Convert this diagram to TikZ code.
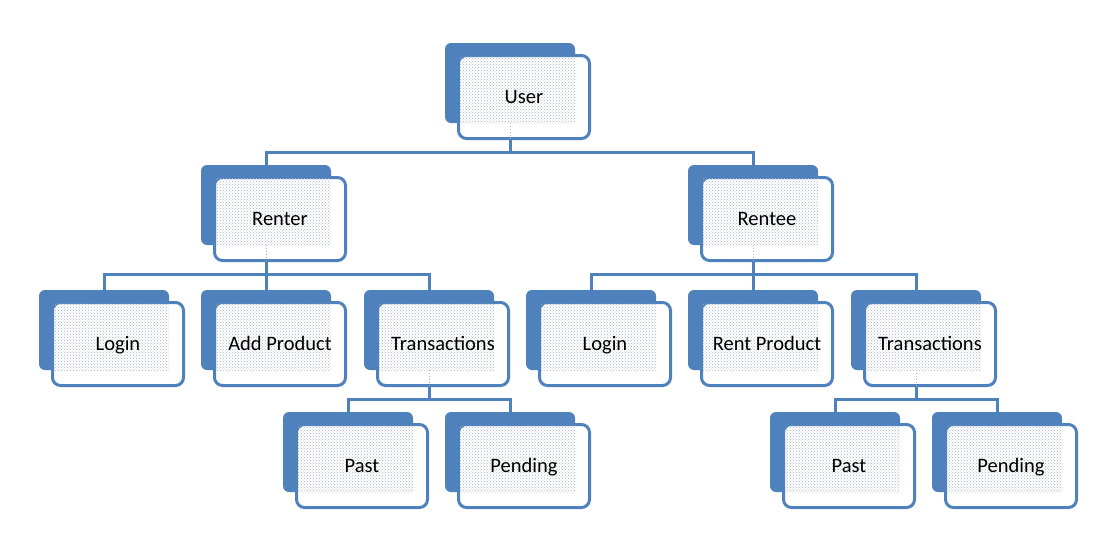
\documentclass[tikz,border=0pt]{standalone}
\usepackage{fontspec}
\setmainfont{Carlito}
\usetikzlibrary{patterns}
\definecolor{cardblue}{HTML}{4F81BD}
\definecolor{dotgray}{HTML}{A8B2C2}

\begin{document}
\begin{tikzpicture}[x=1pt,y=-1pt,
    backbox/.style={fill=cardblue, rounded corners=6pt, minimum width=130pt, minimum height=80pt, inner sep=0pt},
    frontbox/.style={draw=cardblue, line width=3pt, fill=white, rounded corners=8pt, minimum width=131pt, minimum height=83pt, inner sep=0pt},
    cardtext/.style={font=\fontsize{20.5}{24}\selectfont, inner sep=0pt, anchor=base},
    link/.style={draw=cardblue, line width=3pt},
    stub/.style={draw=dotgray, line width=1pt, dotted}]
  \useasboundingbox (0,0) rectangle (1114,558);
  % cards: back box centre and label
  \foreach \n/\x/\y/\t in {user/510/83/User, renter/266/205/Renter, rentee/753/205/Rentee,
      login-l/104/330/Login, addprod/266/330/Add Product, trans-l/429/330/Transactions,
      login-r/591/330/Login, rentprod/753/330/Rent Product, trans-r/916/330/Transactions,
      past-l/348/452/Past, pending-l/510/452/Pending, past-r/835/452/Past, pending-r/997/452/Pending}{
    \node[backbox] (\n) at (\x,\y) {};
    \node[frontbox] (\n-f) at (\x+14,\y+14) {};
    \begin{scope}
      \clip (\n.south west) rectangle (\n.north east);
      \fill[pattern=crosshatch dots, pattern color=dotgray] ([xshift=2.8pt,yshift=-2.8pt]\n-f.north west) rectangle (\n-f.south east);
    \end{scope}
    \node[cardtext] (\n-t) at ([yshift=-6pt]\n-f.center) {\t};
  }
  % connectors
  \foreach \p/\c in {user/renter, user/rentee, renter/login-l, renter/addprod, renter/trans-l,
      rentee/login-r, rentee/rentprod, rentee/trans-r, trans-l/past-l, trans-l/pending-l,
      trans-r/past-r, trans-r/pending-r}{
    \draw[stub] (\p.south) -- (\p.south |- \p-f.south);
    \draw[link] (\p.south |- \p-f.south) -- ++(0,12) -| (\c.north);
  }
\end{tikzpicture}
\end{document}
